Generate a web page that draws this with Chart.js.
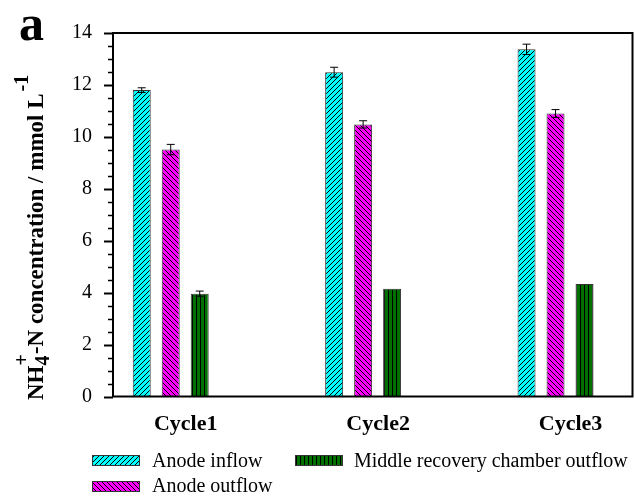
<!DOCTYPE html>
<html lang="en">
<head>
  <meta charset="UTF-8">
  <title>NH4+-N concentration per cycle</title>
  <script src="https://cdn.jsdelivr.net/npm/chart.js"></script>
  <style>
    body { margin: 0; background: #fff; }
  </style>
</head>
<body>
  <canvas id="nh4Chart" width="635" height="499"></canvas>

  <script>
    // data
    const categories = ['Cycle1', 'Cycle2', 'Cycle3'];
    const seriesNames = ['Anode inflow', 'Anode outflow', 'Middle recovery chamber outflow'];
    const anodeInflow = [11.80, 12.49, 13.37];
    const anodeInflowErr = [0.09, 0.19, 0.20];
    const anodeOutflow = [9.51, 10.48, 10.90];
    const anodeOutflowErr = [0.20, 0.14, 0.15];
    const middleOutflow = [3.96, 4.15, 4.33];
    const middleOutflowErr = [0.10, 0, 0];
    const yTicks = [0, 2, 4, 6, 8, 10, 12, 14];

    const serif = '"Liberation Serif", "Times New Roman", serif';
    const ctx = document.getElementById('nh4Chart').getContext('2d');

    // hatch fills like the original plot
    function makePattern(bg, kind) {
      const s = kind === 'vert' ? 4 : 5;
      const t = document.createElement('canvas');
      t.width = s; t.height = s;
      const c = t.getContext('2d');
      c.fillStyle = bg;
      c.fillRect(0, 0, s, s);
      c.strokeStyle = '#000';
      c.fillStyle = '#000';
      c.lineWidth = 1;
      if (kind === 'vert') {
        c.fillRect(0, 0, 1, s);
      } else {
        c.beginPath();
        if (kind === 'up') {
          c.moveTo(-1, s + 1); c.lineTo(s + 1, -1);
          c.moveTo(-1, 1); c.lineTo(1, -1);
          c.moveTo(s - 1, s + 1); c.lineTo(s + 1, s - 1);
        } else {
          c.moveTo(-1, -1); c.lineTo(s + 1, s + 1);
          c.moveTo(-1, s - 1); c.lineTo(1, s + 1);
          c.moveTo(s - 1, -1); c.lineTo(s + 1, 1);
        }
        c.stroke();
      }
      return ctx.createPattern(t, 'repeat');
    }

    const fills = [
      makePattern('#00ffff', 'up'),
      makePattern('#ff00ff', 'down'),
      makePattern('#007000', 'vert')
    ];
    const values = [anodeInflow, anodeOutflow, middleOutflow];
    const errors = [anodeInflowErr, anodeOutflowErr, middleOutflowErr];

    const datasets = values.map((vals, k) => ({
      label: seriesNames[k],
      data: vals.map((v, i) => ({ x: i + 1, y: v })),
      backgroundColor: fills[k],
      borderColor: '#333',
      borderWidth: 1,
      categoryPercentage: 0.452,
      barPercentage: 0.62
    }));

    const extras = {
      id: 'extras',
      afterDatasetsDraw(chart) {
        const c = chart.ctx;
        const ys = chart.scales.y;
        c.save();
        c.strokeStyle = '#000';
        c.lineWidth = 1;
        chart.data.datasets.forEach((ds, k) => {
          chart.getDatasetMeta(k).data.forEach((bar, i) => {
            const e = errors[k][i];
            if (!e) return;
            const v = values[k][i];
            const yt = ys.getPixelForValue(v + e);
            const yb = ys.getPixelForValue(v - e);
            c.beginPath();
            c.moveTo(bar.x, yt); c.lineTo(bar.x, yb);
            c.moveTo(bar.x - 4, yt); c.lineTo(bar.x + 4, yt);
            c.moveTo(bar.x - 4, yb); c.lineTo(bar.x + 4, yb);
            c.stroke();
          });
        });
        c.restore();
      },
      afterDraw(chart) {
        const c = chart.ctx;
        const a = chart.chartArea;
        const ys = chart.scales.y;
        c.save();
        c.strokeStyle = '#000';

        // y ticks, major every 2, minor every 0.5
        for (let v = 0; v <= 14.001; v += 0.5) {
          const py = Math.round(ys.getPixelForValue(v)) + 0.5;
          const major = Math.abs(v % 2) < 0.001;
          c.lineWidth = major ? 2 : 1.5;
          c.beginPath();
          c.moveTo(a.left - (major ? 9 : 5), py);
          c.lineTo(a.left, py);
          c.stroke();
        }
        // frame
        c.lineWidth = 2;
        c.strokeRect(a.left, a.top, a.right - a.left, a.bottom - a.top);

        // panel letter
        c.fillStyle = '#000';
        c.font = 'bold 50px ' + serif;
        c.textBaseline = 'alphabetic';
        c.fillText('a', 19, 40);

        // y axis title with sub/superscripts
        c.save();
        c.translate(43, 400);
        c.rotate(-Math.PI / 2);
        const big = 'bold 23px ' + serif, small = 'bold 20px ' + serif;
        let x = 0;
        c.font = big;
        c.fillText('NH', x, 0);
        x += c.measureText('NH').width;
        c.font = small;
        c.fillText('4', x, 6);
        c.fillText('+', x, -15);
        x += Math.max(c.measureText('4').width, c.measureText('+').width);
        c.font = big;
        const rest = '-N concentration / mmol L';
        c.fillText(rest, x, 0);
        x += c.measureText(rest).width;
        c.font = small;
        c.fillText('-1', x + 2, -15);
        c.restore();

        // legend, two columns like the original
        const items = [
          { k: 0, sx: 92, sy: 455, tx: 152, ty: 467 },
          { k: 2, sx: 295, sy: 455, tx: 354, ty: 467 },
          { k: 1, sx: 92, sy: 481, tx: 152, ty: 492 }
        ];
        c.font = '20px ' + serif;
        items.forEach(it => {
          c.fillStyle = fills[it.k];
          c.fillRect(it.sx, it.sy, 47, 10);
          c.lineWidth = 1;
          c.strokeStyle = '#333';
          c.strokeRect(it.sx + 0.5, it.sy + 0.5, 47, 10);
          c.fillStyle = '#000';
          c.fillText(seriesNames[it.k], it.tx, it.ty);
        });
        c.restore();
      }
    };

    new Chart(ctx, {
      type: 'bar',
      data: { datasets },
      plugins: [extras],
      options: {
        responsive: false,
        animation: false,
        layout: { padding: { top: 22, right: 2.5, bottom: 0, left: 0 } },
        plugins: { legend: { display: false }, tooltip: { enabled: false } },
        scales: {
          x: {
            type: 'linear',
            offset: false,
            min: 0.7,
            max: 3.4,
            grid: { display: false, drawTicks: false },
            border: { display: false },
            afterBuildTicks: s => { s.ticks = categories.map((c, i) => ({ value: i + 1 })); },
            afterFit: s => { s.height = 102.5; },
            ticks: {
              autoSkip: false,
              maxRotation: 0,
              padding: 15,
              labelOffset: 15,
              color: '#000',
              font: { family: serif, size: 22, weight: 'bold' },
              callback: v => categories[Math.round(v) - 1]
            }
          },
          y: {
            min: 0,
            max: 14,
            grid: { display: false, drawTicks: false },
            border: { display: false },
            afterBuildTicks: s => { s.ticks = yTicks.map(v => ({ value: v })); },
            afterFit: s => { s.width = 113; },
            ticks: {
              padding: 21,
              color: '#000',
              font: { family: serif, size: 20 }
            }
          }
        }
      }
    });
  </script>
</body>
</html>
